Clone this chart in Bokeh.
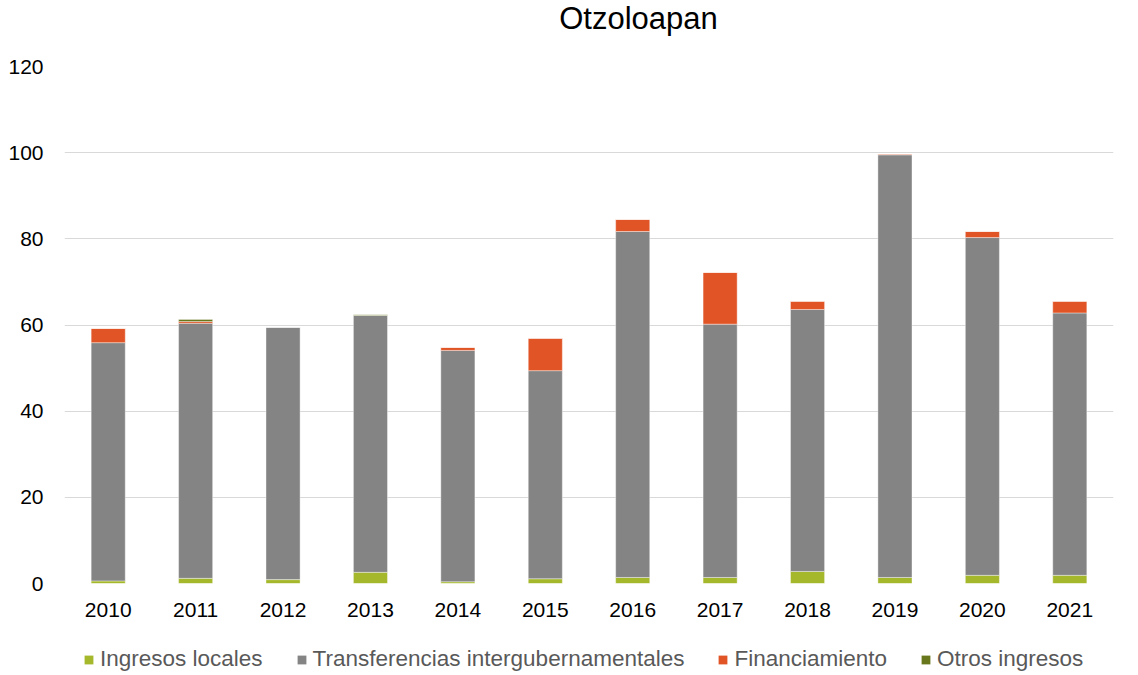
from bokeh.plotting import figure
from bokeh.layouts import column
from bokeh.models import (ColumnDataSource, Legend, LegendItem, Range1d, FactorRange,
                          SingleIntervalTicker, Label)
from bokeh.embed import file_html
from bokeh.resources import INLINE

title_text = "Otzoloapan"
years = ["2010", "2011", "2012", "2013", "2014", "2015", "2016", "2017", "2018", "2019", "2020", "2021"]
ingresos_locales = [0.6, 1.2, 0.9, 2.6, 0.4, 1.1, 1.4, 1.4, 2.8, 1.4, 1.9, 1.9]
transferencias = [55.3, 59.2, 58.6, 59.6, 53.7, 48.3, 80.3, 58.8, 60.8, 98.1, 78.4, 60.9]
financiamiento = [3.3, 0.4, 0.0, 0.0, 0.7, 7.5, 2.8, 12.0, 1.9, 0.2, 1.4, 2.7]
otros_ingresos = [0.0, 0.5, 0.0, 0.2, 0.0, 0.0, 0.0, 0.0, 0.0, 0.0, 0.0, 0.0]

series = ["ingresos_locales", "transferencias", "financiamiento", "otros_ingresos"]
labels = ["Ingresos locales", "Transferencias intergubernamentales", "Financiamiento", "Otros ingresos"]
colors = ["#A5B72A", "#848484", "#E05426", "#68771C"]

W = 1122
BL, BR = 64, 9

def strip(height):
    f = figure(width=W, height=height, output_backend="svg", toolbar_location=None,
               x_axis_location=None, y_axis_location=None,
               x_range=Range1d(0, 1), y_range=Range1d(0, 1),
               min_border_left=BL, min_border_right=BR, min_border_top=0, min_border_bottom=0)
    f.outline_line_color = None
    f.xgrid.grid_line_color = None
    f.ygrid.grid_line_color = None
    f.background_fill_color = "white"
    f.border_fill_color = "white"
    return f

# title strip
ts = strip(40)
ts.add_layout(Label(x=574, y=22, x_units="screen", y_units="screen", text=title_text,
                    text_align="center", text_baseline="alphabetic",
                    text_font="Liberation Sans", text_font_size="31px", text_color="#000000"))

source = ColumnDataSource(dict(years=years, ingresos_locales=ingresos_locales,
                               transferencias=transferencias, financiamiento=financiamiento,
                               otros_ingresos=otros_ingresos))

p = figure(width=W, height=588, x_range=FactorRange(*years, range_padding=0.0),
           y_range=Range1d(0, 120), output_backend="svg", toolbar_location=None,
           min_border_left=BL, min_border_right=BR, min_border_top=26, min_border_bottom=45)

p.vbar_stack(series, x="years", width=0.39, source=source, color=colors,
             line_color="white", line_alpha=0.5, line_width=0.8)

p.outline_line_color = None
p.background_fill_color = "white"
p.border_fill_color = "white"
p.xgrid.grid_line_color = None
p.ygrid.grid_line_color = "#D9D9D9"
p.ygrid.grid_line_width = 1
p.yaxis.ticker = SingleIntervalTicker(interval=20)
for ax in (p.xaxis[0], p.yaxis[0]):
    ax.axis_line_color = None
    ax.major_tick_line_color = None
    ax.minor_tick_line_color = None
    ax.major_tick_in = 0
    ax.major_tick_out = 0
    ax.minor_tick_in = 0
    ax.minor_tick_out = 0
    ax.major_label_text_font = "Liberation Sans"
    ax.major_label_text_font_size = "21px"
    ax.major_label_text_color = "#000000"
p.xaxis.major_label_standoff = 19
p.yaxis.major_label_standoff = 21

# legend strip below the chart (hidden proxy renderers carry the legend swatches)
lg = strip(47)
lg_src = ColumnDataSource(dict(x=[0.5], top=[0.0]))
items = []
for lab, col in zip(labels, colors):
    r = lg.vbar(x="x", top="top", width=0.5, source=lg_src, fill_color=col, line_color=None,
                visible=False)
    items.append(LegendItem(label=lab, renderers=[r]))

legend = Legend(items=items, orientation="horizontal", location=(19, 3),
                label_text_font="Liberation Sans", label_text_font_size="22.5px",
                label_text_color="#595959", glyph_width=11, glyph_height=11,
                spacing=33, label_standoff=6, border_line_color=None, margin=0,
                padding=0, background_fill_alpha=0, inactive_fill_alpha=0,
                click_policy="none")
lg.add_layout(legend, "center")

layout = column(ts, p, lg, spacing=0)
open("out.html", "w").write(file_html(layout, INLINE))
